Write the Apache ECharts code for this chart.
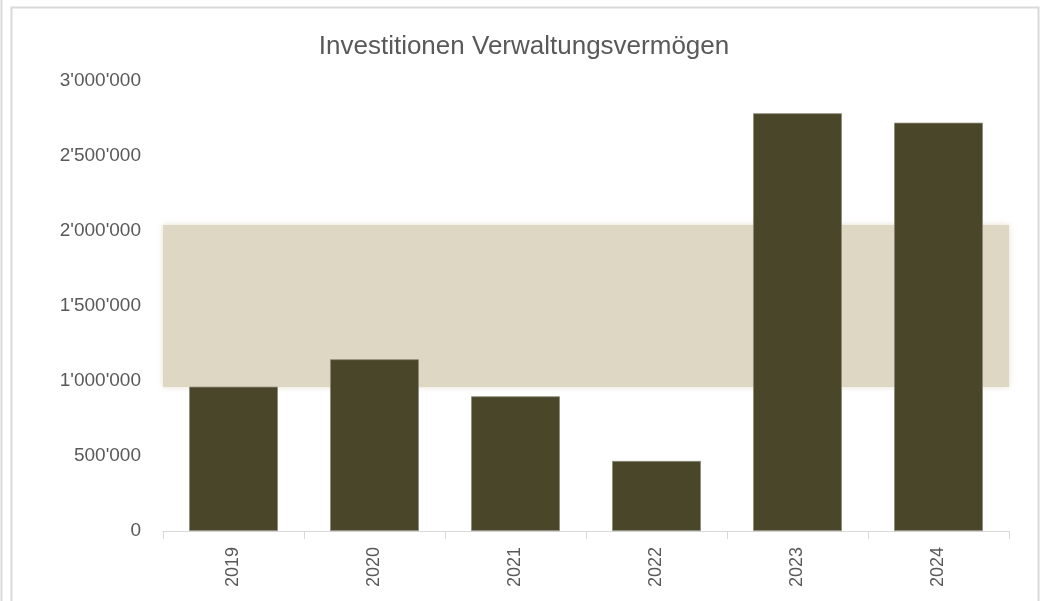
<!DOCTYPE html>
<html>
<head>
<meta charset="utf-8">
<script src="https://cdn.jsdelivr.net/npm/echarts@6/dist/echarts.min.js"></script>
<style>
  html, body { margin: 0; padding: 0; background: #fff; }
  #chart { width: 1048px; height: 601px; }
</style>
</head>
<body>
<div id="chart"></div>
<script>
// Jahre und Investitionen (CHF)
var years = ['2019', '2020', '2021', '2022', '2023', '2024'];
var investitionen = [962000, 1145000, 898000, 467000, 2785000, 2722000];
// Bandbreite (hinterlegter Bereich)
var bandLow = 960000;
var bandHigh = 2040000;
var yTicks = [0, 500000, 1000000, 1500000, 2000000, 2500000, 3000000];

var font = '"Liberation Sans Narrow", "Arial Narrow", "Liberation Sans", sans-serif';

function fmt(v) {
    return String(v).replace(/\B(?=(\d{3})+(?!\d))/g, "'");
}

var myChart = echarts.init(document.getElementById('chart'));
var option = {
    animation: false,
    title: {
        text: 'Investitionen Verwaltungsvermögen',
        left: 'center',
        top: 29,
        textStyle: { fontFamily: font, fontSize: 26, fontWeight: 'normal', color: '#595959' }
    },
    grid: { left: 163, right: 39, top: 81, bottom: 70 },
    xAxis: {
        type: 'category',
        data: years,
        axisLine: { lineStyle: { color: '#d9d9d9', width: 1 } },
        axisTick: { show: true, length: 8, lineStyle: { color: '#d9d9d9' } },
        axisLabel: { rotate: 90, margin: 16, fontFamily: font, fontSize: 18, color: '#595959' }
    },
    yAxis: {
        type: 'value',
        min: yTicks[0],
        max: yTicks[yTicks.length - 1],
        interval: 500000,
        splitLine: { show: false },
        axisLine: { show: false },
        axisTick: { show: false },
        axisLabel: { margin: 22, fontFamily: font, fontSize: 19, color: '#595959', formatter: fmt }
    },
    graphic: [
        { type: 'rect', shape: { x: 11.5, y: 7.5, width: 1027, height: 620 },
          style: { fill: 'none', stroke: '#d9d9d9', lineWidth: 2 }, silent: true },
        { type: 'line', shape: { x1: 1.5, y1: 0, x2: 1.5, y2: 601 },
          style: { stroke: '#d9d9d9', lineWidth: 2 }, silent: true }
    ],
    series: [
        {
            name: 'Band',
            type: 'bar',
            data: [],
            z: 1,
            markArea: {
                silent: true,
                itemStyle: { color: '#ddd7c3', shadowBlur: 6, shadowColor: '#e4dfcf' },
                data: [[{ yAxis: bandLow }, { yAxis: bandHigh }]]
            }
        },
        {
            name: 'Investitionen',
            type: 'bar',
            data: investitionen,
            z: 3,
            barWidth: '63%',
            barGap: '-100%',
            itemStyle: { color: '#4a4629', borderColor: '#8c8a78', borderWidth: 0.8 }
        }
    ]
};
myChart.setOption(option);
</script>
</body>
</html>
